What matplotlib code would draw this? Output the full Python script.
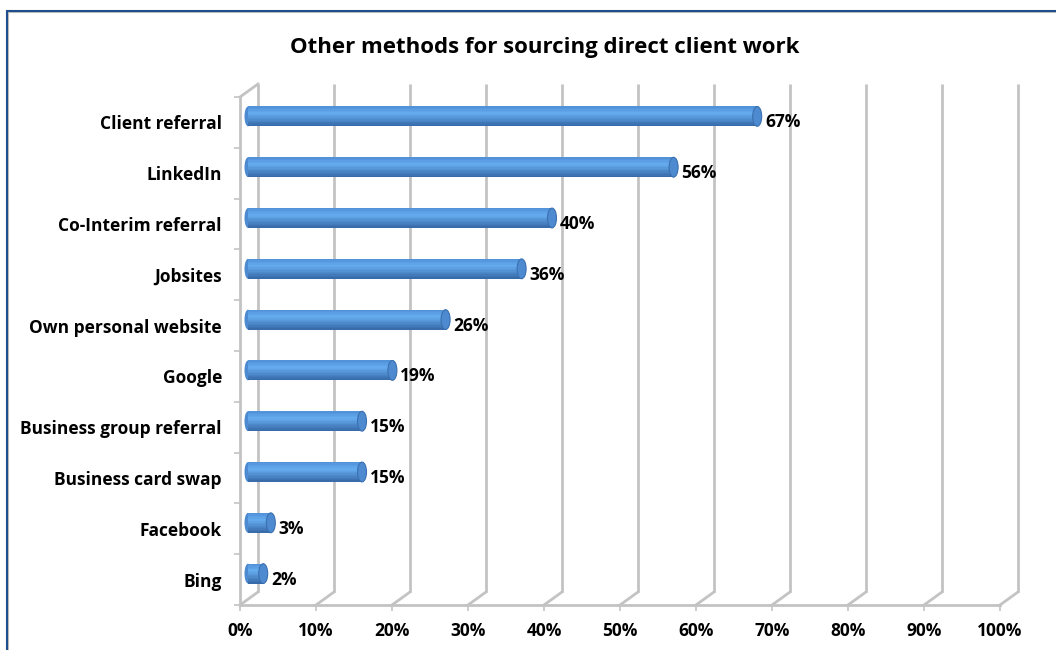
"""
Other methods for sourcing direct client work - 3D style bar chart
"""

import numpy as np
import matplotlib
matplotlib.use("Agg")
import matplotlib.pyplot as plt
from matplotlib.patches import Ellipse, Rectangle
from matplotlib.colors import to_rgb

plt.rcParams["font.family"] = ["Open Sans", "DejaVu Sans"]
plt.rcParams["font.weight"] = "bold"

# ----------------------------------------------------------------------
# Data
# ----------------------------------------------------------------------
categories = [
    "Client referral", "LinkedIn", "Co-Interim referral", "Jobsites",
    "Own personal website", "Google", "Business group referral",
    "Business card swap", "Facebook", "Bing",
]
values = [0.67, 0.56, 0.40, 0.36, 0.26, 0.19, 0.15, 0.15, 0.03, 0.02]
value_labels = ["67%", "56%", "40%", "36%", "26%", "19%", "15%", "15%", "3%", "2%"]
x_ticks = [0.0, 0.1, 0.2, 0.3, 0.4, 0.5, 0.6, 0.7, 0.8, 0.9, 1.0]
x_tick_labels = ["0%", "10%", "20%", "30%", "40%", "50%", "60%", "70%", "80%", "90%", "100%"]
title = "Other methods for sourcing direct client work"

# ----------------------------------------------------------------------
# Figure / geometry (pixels at dpi=100)
# ----------------------------------------------------------------------
W, H = 1056, 650
fig = plt.figure(figsize=(W / 100, H / 100), dpi=100)
fig.patch.set_facecolor("white")

ax_left, ax_right, ax_top, ax_bottom = 240, 1000, 97, 605
ax = fig.add_axes([ax_left / W, 1 - ax_bottom / H,
                   (ax_right - ax_left) / W, (ax_bottom - ax_top) / H])
ax.set_xlim(0, 1)
n = len(categories)
ax.set_ylim(n - 0.5, -0.5)
ax.set_facecolor("none")

px_x = 1.0 / (ax_right - ax_left)          # data units per pixel (x)
px_y = n / (ax_bottom - ax_top)            # data units per pixel (y)

# depth offsets: back wall and mid-depth (where the bars sit)
back_dx, back_dy = 18 * px_x, -13 * px_y
mid_dx, mid_dy = 8 * px_x, -6 * px_y

grid_col = "#c3c3c3"
y_bot, y_top = n - 0.5, -0.5

# back wall gridlines + floor diagonals
for v in x_ticks:
    ax.plot([v + back_dx] * 2, [y_bot + back_dy, y_top + back_dy],
            color=grid_col, lw=2, zorder=1, solid_capstyle="butt", clip_on=False)
    ax.plot([v, v + back_dx], [y_bot, y_bot + back_dy],
            color=grid_col, lw=2, zorder=1, clip_on=False)

# left wall top edge and front edge, floor front edge
ax.plot([0, back_dx], [y_top, y_top + back_dy], color=grid_col, lw=2, zorder=1, clip_on=False)
ax.plot([0, 0], [y_top, y_bot], color=grid_col, lw=2, zorder=1, clip_on=False)
ax.plot([0, 1], [y_bot, y_bot], color=grid_col, lw=2, zorder=1, clip_on=False)

# ----------------------------------------------------------------------
# Cylinder bars (stacked stripes for shading)
# ----------------------------------------------------------------------
bar_h = 0.39
n_stripes = 14
dark = np.array(to_rgb("#3567a6"))
mid = np.array(to_rgb("#4f8fd6"))
light = np.array(to_rgb("#66adf0"))


def shade(t):
    # t=0 top edge, t=1 bottom edge
    if t < 0.35:
        return mid + (light - mid) * (t / 0.35)
    return light + (dark - light) * ((t - 0.35) / 0.65)


y_pos = np.arange(n)
for yi, val in zip(y_pos, values):
    yc = yi + mid_dy
    # left cap
    ax.add_patch(Ellipse((mid_dx, yc), 7 * px_x, bar_h, facecolor="#4d8ad0",
                         edgecolor="none", zorder=3))
    for k in range(n_stripes):
        t = (k + 0.5) / n_stripes
        ys = yc - bar_h / 2 + (k + 0.5) * bar_h / n_stripes
        ax.barh(ys, val, height=bar_h / n_stripes * 1.05, left=mid_dx,
                color=shade(t), edgecolor="none", zorder=4)
    # right cap
    ax.add_patch(Ellipse((mid_dx + val, yc), 9 * px_x, bar_h, facecolor="#4d8ad0",
                         edgecolor="#3a70b0", lw=0.8, zorder=5))

for yi, val, lab in zip(y_pos, values, value_labels):
    ax.text(val + mid_dx + 8 * px_x, yi, lab, ha="left", va="center",
            fontsize=12.5, fontweight="bold", color="black", zorder=6)

# ----------------------------------------------------------------------
# Axes / ticks
# ----------------------------------------------------------------------
for s in ax.spines.values():
    s.set_visible(False)

ax.set_yticks(y_pos)
ax.set_yticklabels(categories, fontsize=12.5, fontweight="bold")
ax.set_yticks(np.arange(-0.5, n), minor=True)
ax.tick_params(axis="y", which="major", length=0, pad=13)
ax.tick_params(axis="y", which="minor", length=4, width=1.2, color=grid_col)

ax.set_xticks(x_ticks)
ax.set_xticklabels(x_tick_labels, fontsize=12.5, fontweight="bold")
ax.tick_params(axis="x", which="major", length=4, width=1.2, color=grid_col, pad=8)

fig.text(545 / W, 1 - 47 / H, title, ha="center", va="center",
         fontsize=16, fontweight="bold")

# outer frame
fig.patches.append(Rectangle((8 / W, -0.1), 1.2, 1.1 - 12 / H, transform=fig.transFigure,
                             fill=False, edgecolor="#bfbfbf", lw=1.5))
fig.patches.append(Rectangle((7 / W, -0.1), 1.2, 1.1 - 11 / H, transform=fig.transFigure,
                             fill=False, edgecolor="#1f4e8c", lw=1.5))

fig.savefig("out.png", dpi=100)
plt.close(fig)
